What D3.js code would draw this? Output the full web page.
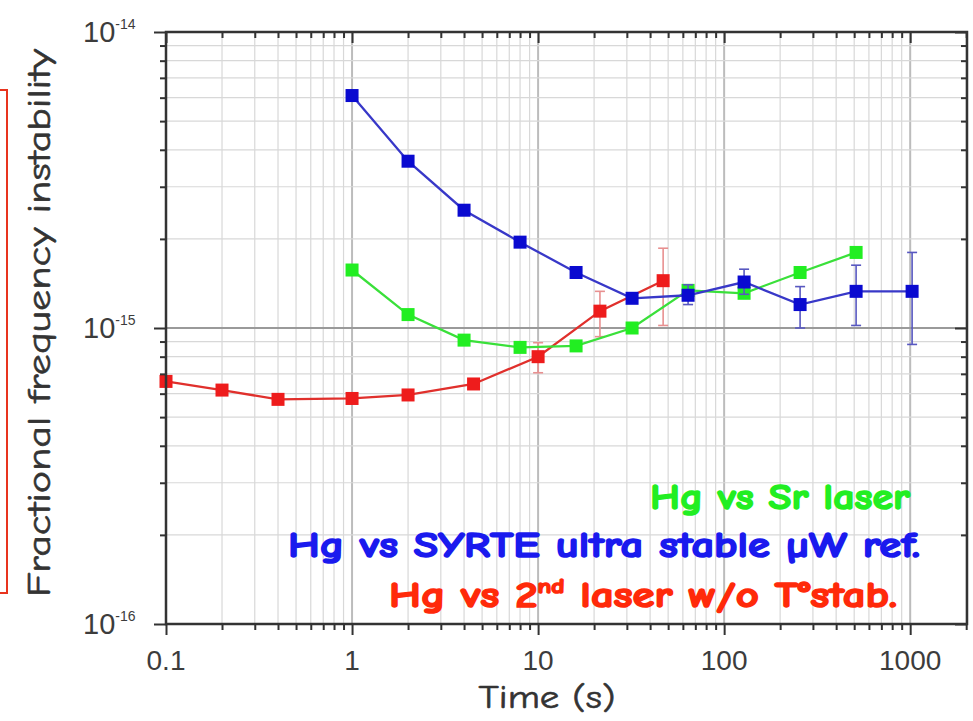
<!DOCTYPE html>
<html>
<head>
<meta charset="utf-8">
<script src="https://cdn.jsdelivr.net/npm/d3@7"></script>
<style>
  body { margin: 0; background: #fff; }
  svg { display: block; }
</style>
</head>
<body>
<script>
// values
var redTau   = [0.1, 0.2, 0.4, 1, 2, 4.5, 10, 21.5, 47];
var redAdev  = [6.6e-16, 6.17e-16, 5.74e-16, 5.78e-16, 5.94e-16, 6.47e-16, 8.0e-16, 1.14e-15, 1.445e-15];
var redLo    = [null, null, null, null, null, null, 7.06e-16, 9.35e-16, 1.02e-15];
var redHi    = [null, null, null, null, null, null, 8.92e-16, 1.33e-15, 1.86e-15];

var greenTau  = [1, 2, 4, 8, 16, 32, 64, 128, 256, 512];
var greenAdev = [1.57e-15, 1.11e-15, 9.1e-16, 8.6e-16, 8.7e-16, 1.0e-15, 1.34e-15, 1.31e-15, 1.54e-15, 1.80e-15];

var blueTau  = [1, 2, 4, 8, 16, 32, 64, 128, 256, 512, 1024];
var blueAdev = [6.1e-15, 3.66e-15, 2.5e-15, 1.95e-15, 1.54e-15, 1.26e-15, 1.29e-15, 1.43e-15, 1.20e-15, 1.33e-15, 1.33e-15];
var blueLo   = [null, null, null, null, null, null, 1.20e-15, 1.30e-15, 1.0e-15, 1.02e-15, 8.8e-16];
var blueHi   = [null, null, null, null, null, null, 1.40e-15, 1.58e-15, 1.38e-15, 1.63e-15, 1.80e-15];

var xLabels = [0.1, 1, 10, 100, 1000];
var yLabels = [1e-14, 1e-15, 1e-16];

var width = 973, height = 721;
var margin = {top: 32, right: 6, bottom: 97, left: 166};

var svg = d3.select("body").append("svg")
    .attr("width", width)
    .attr("height", height);

var x = d3.scaleLog().domain([0.1, 2020]).range([margin.left, width - margin.right]);
var y = d3.scaleLog().domain([1e-16, 1e-14]).range([height - margin.bottom, margin.top]);

function isMajor(v) {
  var l = Math.log10(v);
  return Math.abs(l - Math.round(l)) < 1e-6;
}

var xAll = x.ticks(), yAll = y.ticks();
var xMinor = xAll.filter(function(v){ return !isMajor(v); }),
    xMajor = xAll.filter(isMajor),
    yMinor = yAll.filter(function(v){ return !isMajor(v); }),
    yMajor = yAll.filter(isMajor);

// red box at the left edge
svg.append("rect")
  .attr("x", -10).attr("y", 90)
  .attr("width", 17).attr("height", 503)
  .attr("fill", "none")
  .attr("stroke", "#e8341e")
  .attr("stroke-width", 2);

// grid
var grid = svg.append("g");
grid.selectAll(".gx").data(xAll).enter().append("line")
  .attr("x1", function(d){ return x(d); }).attr("x2", function(d){ return x(d); })
  .attr("y1", y.range()[1]).attr("y2", y.range()[0])
  .attr("stroke", function(d){ return isMajor(d) ? "#bcbcbc" : "#d8d8d8"; })
  .attr("stroke-width", function(d){ return isMajor(d) ? 2 : 1.2; });
grid.selectAll(".gy").data(yAll).enter().append("line")
  .attr("y1", function(d){ return y(d); }).attr("y2", function(d){ return y(d); })
  .attr("x1", x.range()[0]).attr("x2", x.range()[1])
  .attr("stroke", function(d){ return isMajor(d) ? "#9a9a9a" : "#d8d8d8"; })
  .attr("stroke-width", function(d){ return isMajor(d) ? 1.8 : 1.2; });

// series
function drawSeries(tau, adev, lo, hi, lineColor, fillColor, errColor) {
  var g = svg.append("g");
  var pts = tau.map(function(t, i){ return {t: t, v: adev[i], lo: lo ? lo[i] : null, hi: hi ? hi[i] : null}; });
  var eb = pts.filter(function(p){ return p.lo != null; });
  g.selectAll(".eb").data(eb).enter().append("line")
    .attr("x1", function(p){ return x(p.t); }).attr("x2", function(p){ return x(p.t); })
    .attr("y1", function(p){ return y(p.lo); }).attr("y2", function(p){ return y(p.hi); })
    .attr("stroke", errColor).attr("stroke-width", 1.6);
  ["lo", "hi"].forEach(function(k) {
    g.selectAll(".cap" + k).data(eb).enter().append("line")
      .attr("x1", function(p){ return x(p.t) - 5; }).attr("x2", function(p){ return x(p.t) + 5; })
      .attr("y1", function(p){ return y(p[k]); }).attr("y2", function(p){ return y(p[k]); })
      .attr("stroke", errColor).attr("stroke-width", 1.6);
  });
  g.append("path")
    .datum(pts)
    .attr("fill", "none")
    .attr("stroke", lineColor)
    .attr("stroke-width", 2.3)
    .attr("d", d3.line().x(function(p){ return x(p.t); }).y(function(p){ return y(p.v); }));
  g.selectAll("rect").data(pts).enter().append("rect")
    .attr("x", function(p){ return x(p.t) - 6.5; })
    .attr("y", function(p){ return y(p.v) - 6.5; })
    .attr("width", 13).attr("height", 13)
    .attr("fill", fillColor);
}

drawSeries(redTau, redAdev, redLo, redHi, "#e0302c", "#ee1c1c", "#e89090");
drawSeries(greenTau, greenAdev, null, null, "#3ae03a", "#22ee22", "#3ae03a");
drawSeries(blueTau, blueAdev, blueLo, blueHi, "#3838c8", "#0a0ad0", "#5858c0");

// axes: ticks out on left/bottom, in on top/right
var frameColor = "#333";
function addAxis(axisFn, vals, size, transform) {
  var g = svg.append("g")
    .attr("transform", transform)
    .call(axisFn.tickValues(vals).tickSize(size).tickFormat(""));
  g.select(".domain").remove();
  g.selectAll(".tick line").attr("stroke", frameColor).attr("stroke-width", 2);
}
var bottomY = y.range()[0], topY = y.range()[1], leftX = x.range()[0], rightX = x.range()[1];
addAxis(d3.axisBottom(x), xMinor, 6, "translate(0," + bottomY + ")");
addAxis(d3.axisBottom(x), xMajor, 11, "translate(0," + bottomY + ")");
addAxis(d3.axisTop(x), xMinor, -6, "translate(0," + topY + ")");
addAxis(d3.axisTop(x), xMajor, -11, "translate(0," + topY + ")");
addAxis(d3.axisLeft(y), yMinor, 6, "translate(" + leftX + ",0)");
addAxis(d3.axisLeft(y), yMajor, 12, "translate(" + leftX + ",0)");
addAxis(d3.axisRight(y), yMinor, -6, "translate(" + rightX + ",0)");
addAxis(d3.axisRight(y), yMajor, -12, "translate(" + rightX + ",0)");

svg.append("rect")
  .attr("x", leftX).attr("y", topY)
  .attr("width", rightX - leftX).attr("height", bottomY - topY)
  .attr("fill", "none")
  .attr("stroke", frameColor)
  .attr("stroke-width", 2.5);

// tick labels
var labelFont = "'Liberation Sans', Arial, sans-serif";
svg.selectAll(".xl").data(xLabels).enter().append("text")
  .attr("x", function(d){ return x(d); })
  .attr("y", 670)
  .attr("text-anchor", "middle")
  .attr("font-family", labelFont)
  .attr("font-size", 28)
  .attr("fill", "#3c3c3c")
  .text(function(d){ return d; });

var yl = svg.selectAll(".yl").data(yLabels).enter().append("text")
  .attr("x", 83)
  .attr("y", function(d){ return y(d) + 10; })
  .attr("font-family", labelFont)
  .attr("font-size", 29)
  .attr("fill", "#3c3c3c");
yl.append("tspan").text("10");
yl.append("tspan")
  .attr("dy", -13)
  .attr("font-size", 14)
  .text(function(d){ return Math.round(Math.log10(d)); });

// axis titles
var titleFont = "'Comic Sans MS', 'Comic Neue', 'DejaVu Sans', sans-serif";
svg.append("text")
  .attr("transform", "translate(50,323) rotate(-90)")
  .attr("text-anchor", "middle")
  .attr("font-family", titleFont)
  .attr("font-size", 33)
  .attr("fill", "#333")
  .attr("stroke", "#333")
  .attr("stroke-width", 0.6)
  .attr("textLength", 548)
  .attr("lengthAdjust", "spacingAndGlyphs")
  .text("Fractional frequency instability");

svg.append("text")
  .attr("x", 547).attr("y", 708)
  .attr("text-anchor", "middle")
  .attr("font-family", titleFont)
  .attr("font-size", 33)
  .attr("fill", "#333")
  .attr("stroke", "#333")
  .attr("stroke-width", 0.6)
  .attr("textLength", 137)
  .attr("lengthAdjust", "spacingAndGlyphs")
  .text("Time (s)");

// legend texts
var legend = svg.append("g")
  .attr("font-family", titleFont)
  .attr("font-weight", "bold")
  .attr("font-size", 37)
  .attr("stroke-width", 1.6);

legend.append("text")
  .attr("x", 650).attr("y", 509)
  .attr("fill", "#22ee22").attr("stroke", "#22ee22")
  .attr("textLength", 260)
  .attr("lengthAdjust", "spacingAndGlyphs")
  .text("Hg vs Sr laser");

legend.append("text")
  .attr("x", 288).attr("y", 557)
  .attr("fill", "#1a1aee").attr("stroke", "#1a1aee")
  .attr("textLength", 632)
  .attr("lengthAdjust", "spacingAndGlyphs")
  .text("Hg vs SYRTE ultra stable \u00b5W ref.");

var rt = legend.append("text")
  .attr("x", 389).attr("y", 607)
  .attr("fill", "#ff2a0a").attr("stroke", "#ff2a0a")
  .attr("textLength", 508)
  .attr("lengthAdjust", "spacingAndGlyphs");
rt.append("tspan").text("Hg vs 2");
rt.append("tspan").attr("dy", -14).attr("font-size", 21).text("nd");
rt.append("tspan").attr("dy", 14).text(" laser w/o T\u00b0stab.");
</script>
</body>
</html>
